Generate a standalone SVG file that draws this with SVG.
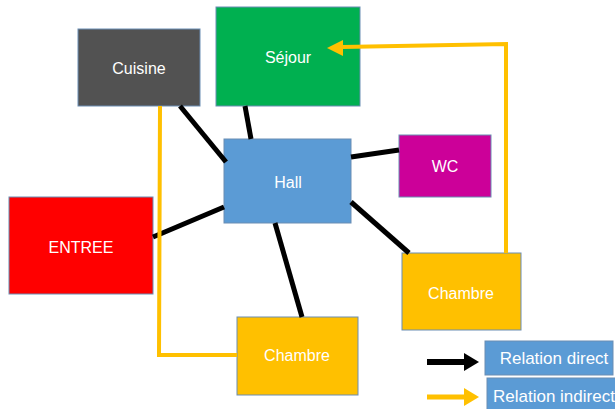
<svg xmlns="http://www.w3.org/2000/svg" width="615" height="409" viewBox="0 0 615 409">
<style>
.box{stroke:#6a8db3;stroke-width:1}
.lbl{font-family:"Liberation Sans",Arial,sans-serif;font-size:16px;fill:#ffffff;text-anchor:middle;dominant-baseline:central}
.leg{font-size:17px}
.direct{stroke:#000;stroke-width:5;fill:none}
.indirect{stroke:#ffc000;stroke-width:4;fill:none}
</style>
<rect width="615" height="409" fill="#ffffff"/>
<g id="cuisine"><rect class="box" x="78" y="29" width="122" height="77" fill="#525252"/><text class="lbl" x="139" y="68">Cuisine</text></g>
<g id="sejour"><rect class="box" x="216" y="7" width="144" height="99" fill="#00b050"/><text class="lbl" x="288" y="57">Séjour</text></g>
<g id="hall"><rect class="box" x="224" y="139" width="127" height="84" fill="#5b9bd5"/><text class="lbl" x="288" y="182">Hall</text></g>
<g id="wc"><rect class="box" x="399" y="135" width="92" height="62" fill="#cc0099"/><text class="lbl" x="445" y="166">WC</text></g>
<g id="entree"><rect class="box" x="9" y="197" width="144" height="97" fill="#ff0000"/><text class="lbl" x="81" y="247">ENTREE</text></g>
<g id="chambre1"><rect class="box" x="402" y="253" width="119" height="77" fill="#ffc000"/><text class="lbl" x="461" y="293">Chambre</text></g>
<g id="chambre2"><rect class="box" x="237" y="317" width="121" height="78" fill="#ffc000"/><text class="lbl" x="297" y="355">Chambre</text></g>
<g id="connectors">
<line class="direct" x1="180" y1="106" x2="226" y2="162"/>
<line class="direct" x1="245" y1="106" x2="251" y2="139"/>
<line class="direct" x1="351" y1="157" x2="399" y2="150"/>
<line class="direct" x1="153" y1="237" x2="224" y2="207"/>
<line class="direct" x1="351" y1="202" x2="409" y2="253"/>
<line class="direct" x1="275" y1="223" x2="302" y2="317"/>
<polyline class="indirect" points="160,106 159,355 237,355"/>
<polyline class="indirect" points="506,253 506,44 342,47"/>
<path d="M327,48 L343,40 L343,56 Z" fill="#ffc000"/>
</g>
<g id="legend">
<line x1="427" y1="362" x2="465" y2="362" stroke="#000" stroke-width="6"/>
<path d="M479,362 L464,353 L464,371 Z" fill="#000"/>
<line x1="427" y1="397" x2="465" y2="397" stroke="#ffc000" stroke-width="5"/>
<path d="M479,397 L464,388 L464,406 Z" fill="#ffc000"/>
<rect class="box" x="485" y="341" width="128" height="34" fill="#5b9bd5"/>
<text class="lbl leg" x="554" y="358">Relation direct</text>
<rect class="box" x="487" y="378" width="130" height="33" fill="#5b9bd5"/>
<text class="lbl leg" x="493" y="396" style="text-anchor:start">Relation indirect</text>
</g>
</svg>
